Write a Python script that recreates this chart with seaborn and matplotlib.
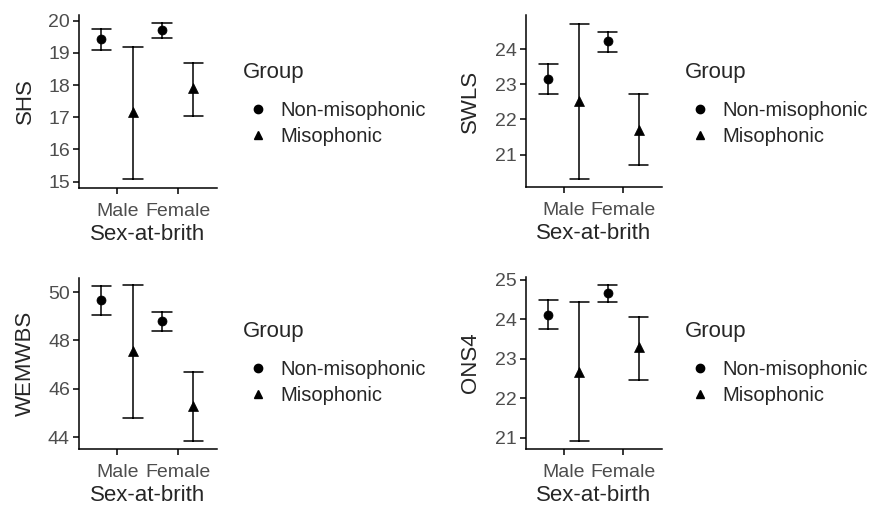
import numpy as np
import pandas as pd
import matplotlib
matplotlib.use("Agg")
import matplotlib.pyplot as plt
from matplotlib.lines import Line2D
import seaborn as sns

sns.set_style("ticks")
plt.rcParams['font.family'] = ['Liberation Sans', 'DejaVu Sans']

# Categorias
sexes = ["Male", "Female"]
groups = ["Non-misophonic", "Misophonic"]

# Medias e intervalos (ordem: Male/Non, Male/Mis, Female/Non, Female/Mis)
shs_mean = [19.42, 17.17, 19.71, 17.90]
shs_low = [19.08, 15.08, 19.46, 17.04]
shs_high = [19.74, 19.19, 19.92, 18.68]

swls_mean = [23.14, 22.53, 24.24, 21.69]
swls_low = [22.71, 20.30, 23.92, 20.70]
swls_high = [23.59, 24.72, 24.49, 22.71]

wem_mean = [49.68, 47.58, 48.81, 45.31]
wem_low = [49.06, 44.81, 48.40, 43.85]
wem_high = [50.23, 50.30, 49.17, 46.71]

ons_mean = [24.12, 22.68, 24.66, 23.29]
ons_low = [23.75, 20.93, 24.43, 22.46]
ons_high = [24.48, 24.45, 24.87, 24.07]

panels = [
    ("SHS", "Sex-at-brith", shs_mean, shs_low, shs_high, [15, 16, 17, 18, 19, 20], (14.80, 20.18)),
    ("SWLS", "Sex-at-brith", swls_mean, swls_low, swls_high, [21, 22, 23, 24], (20.08, 24.97)),
    ("WEMWBS", "Sex-at-brith", wem_mean, wem_low, wem_high, [44, 46, 48, 50], (43.52, 50.58)),
    ("ONS4", "Sex-at-birth", ons_mean, ons_low, ons_high, [21, 22, 23, 24, 25], (20.72, 25.07)),
]

# Posicoes dos eixos (left, top, width, height) em pixels e das legendas
W, H = 893, 508
axes_px = [(79, 15, 138, 173), (526, 15, 136, 172), (79, 278, 138, 171), (526, 277, 136, 172)]
legend_px = [(243, 62), (685, 62), (243, 321), (685, 321)]
ylabel_x = [-0.31, -0.33, -0.31, -0.33]


def long_table(mean, low, high):
    rows = []
    i = 0
    for s in sexes:
        for g in groups:
            for v in (low[i], mean[i], high[i]):
                rows.append({"Sex": s, "Group": g, "value": v})
            i += 1
    return pd.DataFrame(rows)


fig = plt.figure(figsize=(W / 100, H / 100), dpi=100)

for k, (ylab, xlab, m, lo, hi, yticks, ylim) in enumerate(panels):
    l, t, w, h = axes_px[k]
    ax = fig.add_axes([l / W, 1 - (t + h) / H, w / W, h / H])
    df = long_table(m, lo, hi)
    sns.pointplot(data=df, x="Sex", y="value", hue="Group", order=sexes, hue_order=groups,
                  estimator="median", errorbar=lambda v: (v.min(), v.max()),
                  markers=["o", "^"], linestyles="none", dodge=0.52, capsize=0.32,
                  palette=["black", "black"], markersize=6.5, markeredgewidth=0.5,
                  err_kws={"linewidth": 1.1, "linestyle": "-"}, legend=False, ax=ax)
    ax.set_xlim(-0.63, 1.65)
    ax.set_ylim(*ylim)
    ax.set_yticks(yticks)
    sns.despine(ax=ax)
    for sp in ["left", "bottom"]:
        ax.spines[sp].set_linewidth(1.1)
        ax.spines[sp].set_color("black")
    ax.tick_params(length=4.5, width=1.1, color="black", labelsize=14, labelcolor="#4D4D4D", pad=2)
    ax.tick_params(axis="x", pad=6)
    ax.set_ylabel(ylab, fontsize=16)
    ax.set_xlabel(xlab, fontsize=16, labelpad=3)
    ax.yaxis.set_label_coords(ylabel_x[k], 0.5)

    handles = [Line2D([], [], marker="o", color="black", linestyle="none", markersize=6),
               Line2D([], [], marker="^", color="black", linestyle="none", markersize=6)]
    lx, ly = legend_px[k]
    leg = ax.legend(handles, groups, title="Group", loc="upper left",
                    bbox_to_anchor=(lx / W, 1 - ly / H), bbox_transform=fig.transFigure,
                    frameon=False, borderpad=0, borderaxespad=0, fontsize=14.5,
                    title_fontsize=16, alignment="left", handlelength=1.5,
                    handletextpad=0.35, labelspacing=0.35)
    leg._legend_box.sep = 13

fig.savefig("out.png", dpi=100)
